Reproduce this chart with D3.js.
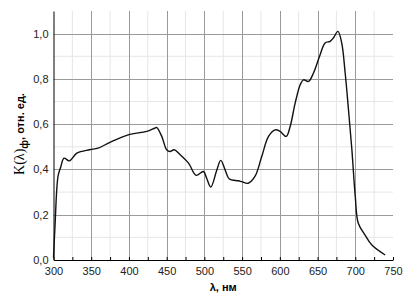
<!DOCTYPE html>
<html>
<head>
<meta charset="utf-8">
<script src="https://cdn.jsdelivr.net/npm/d3@7"></script>
<style>
  body { margin: 0; background: #fff; }
  svg { display: block; }
  text { font-family: Arial, "Liberation Sans", sans-serif; }
</style>
</head>
<body>
<svg id="chart" width="416" height="296"></svg>
<script>
let width = 416;
let height = 296;

// длина волны, нм
let lambda = [300, 302, 306, 309.5, 314, 321, 331, 348, 359, 375, 399, 423.6, 434.6, 437,
  443.5, 450, 454.5, 460, 468, 479, 489, 498.7, 503, 508.5, 516.5, 521.7, 527.5, 533,
  545, 549.6, 558, 567, 576, 585, 593.8, 600.4, 608.4, 613.7, 620.3, 627, 631.3, 638,
  644.6, 653.4, 660, 666.7, 671, 677, 682, 686.6, 691, 695.5, 700, 704, 713, 722, 739.6];
// K(λ)ф, отн. ед.
let kValues = [0.01, 0.15, 0.37, 0.41, 0.45, 0.438, 0.472, 0.487, 0.494, 0.52, 0.553, 0.568, 0.583, 0.585,
  0.546, 0.487, 0.479, 0.487, 0.465, 0.428, 0.374, 0.391, 0.361, 0.322, 0.398, 0.44, 0.398, 0.358,
  0.35, 0.346, 0.339, 0.369, 0.457, 0.546, 0.575, 0.568, 0.546, 0.59, 0.693, 0.774, 0.796, 0.789,
  0.826, 0.907, 0.959, 0.966, 0.981, 1.01, 0.959, 0.826, 0.664, 0.487, 0.28, 0.162, 0.11, 0.066, 0.022];

let xTicks = [300, 350, 400, 450, 500, 550, 600, 650, 700, 750];
let yTicks = [0, 0.2, 0.4, 0.6, 0.8, 1.0];

let margin = { left: 53.5, right: 23, top: 11, bottom: 36 };

let x = d3.scaleLinear().domain([300, 750]).range([margin.left, width - margin.right]);
let y = d3.scaleLinear().domain([0, 1.1]).range([height - margin.bottom, margin.top]);

let svg = d3.select("#chart");
let fmt = v => d3.format(".1f")(v).replace(".", ",");

// сетка: мелкая
let minorX = d3.range(325, 750, 50);
let minorY = d3.range(0.1, 1.1, 0.2);
svg.append("g").selectAll("line").data(minorX).enter().append("line")
  .attr("x1", d => x(d)).attr("x2", d => x(d))
  .attr("y1", y(0)).attr("y2", y(1.1))
  .attr("stroke", "#e6e6e6");
svg.append("g").selectAll("line").data(minorY).enter().append("line")
  .attr("x1", x(300)).attr("x2", x(750))
  .attr("y1", d => y(d)).attr("y2", d => y(d))
  .attr("stroke", "#e6e6e6");

// сетка: основная
svg.append("g").selectAll("line").data(xTicks.slice(1, -1)).enter().append("line")
  .attr("x1", d => Math.round(x(d)) + 0.5).attr("x2", d => Math.round(x(d)) + 0.5)
  .attr("y1", y(0)).attr("y2", y(1.1))
  .attr("stroke", "#9a9a9a");
svg.append("g").selectAll("line").data(yTicks.slice(1)).enter().append("line")
  .attr("x1", x(300)).attr("x2", x(750))
  .attr("y1", d => Math.round(y(d)) + 0.5).attr("y2", d => Math.round(y(d)) + 0.5)
  .attr("stroke", "#9a9a9a");

// оси
let xAxis = d3.axisBottom(x).tickValues(d3.range(300, 751, 25)).tickSizeInner(-3).tickSizeOuter(0)
  .tickFormat(d => xTicks.includes(d) ? d : "");
let gx = svg.append("g").attr("transform", `translate(0,${y(0)})`).call(xAxis);
gx.select(".domain").attr("stroke", "#000");
gx.selectAll(".tick line").attr("stroke", "#000");
gx.selectAll("text").attr("font-size", 11).attr("fill", "#222").attr("dy", "1.1em");

let yAxis = d3.axisLeft(y).tickValues(yTicks).tickSize(0).tickFormat(fmt);
let gy = svg.append("g").attr("transform", `translate(${x(300)},0)`).call(yAxis);
gy.select(".domain").attr("stroke", "#000");
gy.selectAll("text").attr("font-size", 11).attr("fill", "#222").attr("x", -5);

// кривая
let line = d3.line().x((d, i) => x(lambda[i])).y(d => y(d)).curve(d3.curveCatmullRom.alpha(0.5));
svg.append("path")
  .datum(kValues)
  .attr("d", line)
  .attr("fill", "none")
  .attr("stroke", "#111")
  .attr("stroke-width", 1.4);

// подписи осей
svg.append("text")
  .attr("x", x(525)).attr("y", 291)
  .attr("text-anchor", "middle")
  .attr("font-size", 11).attr("font-weight", "bold")
  .text("λ, нм");

let yl = svg.append("text")
  .attr("transform", "translate(24,134) rotate(-90)")
  .attr("text-anchor", "middle")
  .attr("font-size", 11).attr("font-weight", "bold");
yl.append("tspan").attr("font-family", "'Liberation Serif', serif").attr("font-size", 14).attr("font-weight", "normal").text("K(λ)");
yl.append("tspan").attr("dy", 4).attr("font-size", 10).text("ф");
yl.append("tspan").attr("dy", -4).text(", отн. ед.");
</script>
</body>
</html>
